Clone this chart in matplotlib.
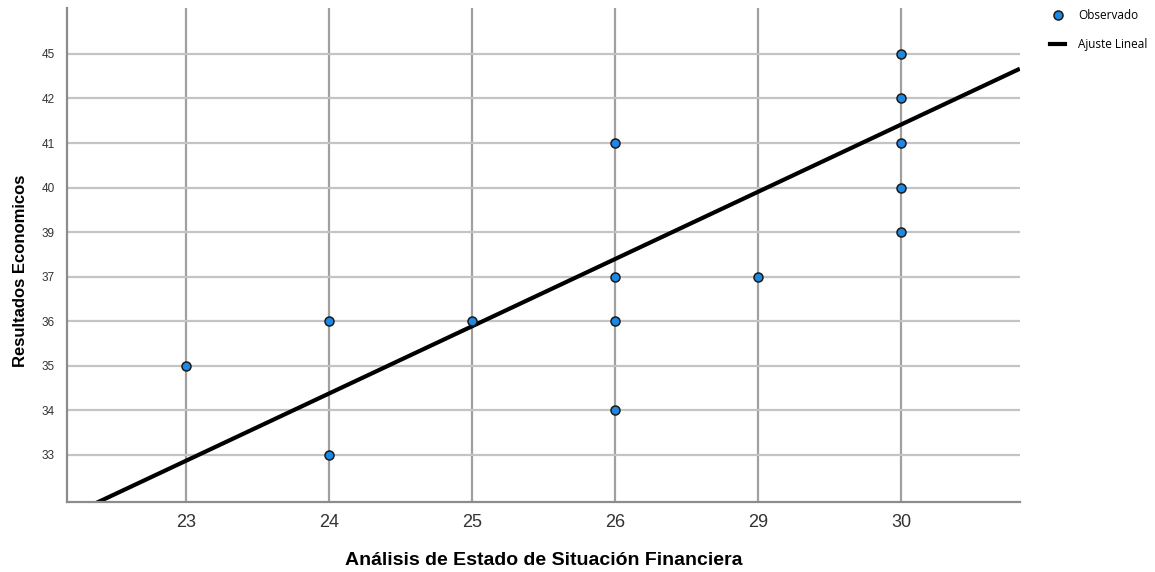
import matplotlib.pyplot as plt
from matplotlib.lines import Line2D

# category axes (SPSS treats the values as equally spaced categories)
x_categories = ["23", "24", "25", "26", "29", "30"]
y_categories = ["33", "34", "35", "36", "37", "39", "40", "41", "42", "45"]

# observed points
obs_x = ["23", "24", "24", "25", "26", "26", "26", "26", "29", "30", "30", "30", "30", "30"]
obs_y = ["35", "36", "33", "36", "41", "37", "36", "34", "37", "45", "42", "41", "40", "39"]

# fitted line in category-index units
fit_intercept = -0.13
fit_slope = 1.509

plt.rcParams["font.family"] = ["Liberation Sans", "DejaVu Sans"]

fig = plt.figure(figsize=(11.55, 5.72), dpi=100)
ax = fig.add_axes([0.058, 0.1224, 0.825, 0.8636])

xi = [x_categories.index(v) for v in obs_x]
yi = [y_categories.index(v) for v in obs_y]

x_lo, x_hi = -0.832, 5.83
y_lo, y_hi = -1.055, 10.03

# grid lines
for i in range(len(x_categories)):
    ax.axvline(i, color="#a0a0a0", lw=1.6, zorder=1)
for j in range(len(y_categories)):
    ax.axhline(j, color="#c4c4c4", lw=1.6, zorder=1)

ax.plot([x_lo, x_hi], [fit_intercept + fit_slope * x_lo, fit_intercept + fit_slope * x_hi],
        color="black", lw=3, zorder=2, solid_capstyle="butt")
ax.scatter(xi, yi, s=42, color="#1e88e5", edgecolor="#1a1a1a", linewidth=1.1, zorder=3)

ax.set_xlim(x_lo, x_hi)
ax.set_ylim(y_lo, y_hi)
ax.set_xticks(range(len(x_categories)))
ax.set_xticklabels(x_categories, fontsize=13, color="#333333")
ax.set_yticks(range(len(y_categories)))
ax.set_yticklabels(y_categories, fontsize=8.5, color="#333333")
ax.tick_params(length=0)
ax.tick_params(axis="x", pad=9)
ax.tick_params(axis="y", pad=9)

for side in ["top", "right"]:
    ax.spines[side].set_visible(False)
for side in ["left", "bottom"]:
    ax.spines[side].set_color("#8c8c8c")
    ax.spines[side].set_linewidth(1.6)

fig.text(0.471, 0.006, "Análisis de Estado de Situación Financiera", fontsize=14,
         fontweight="bold", ha="center", va="bottom")
fig.text(0.018, 0.527, "Resultados Economicos", fontsize=12, fontweight="bold",
         rotation=90, ha="center", va="center")

handles = [
    Line2D([], [], marker="o", ls="none", markersize=6.5, markerfacecolor="#1e88e5",
           markeredgecolor="#1a1a1a", markeredgewidth=1.1),
    Line2D([], [], color="black", lw=3),
]
fig.legend(handles, ["Observado", "Ajuste Lineal"], loc="upper left",
           bbox_to_anchor=(0.9, 1.002), frameon=False,
           handlelength=1.3, handletextpad=1.1, labelspacing=1.3,
           prop={"family": "Open Sans", "size": 8.5})

fig.savefig("out.png", dpi=100, facecolor="white")
